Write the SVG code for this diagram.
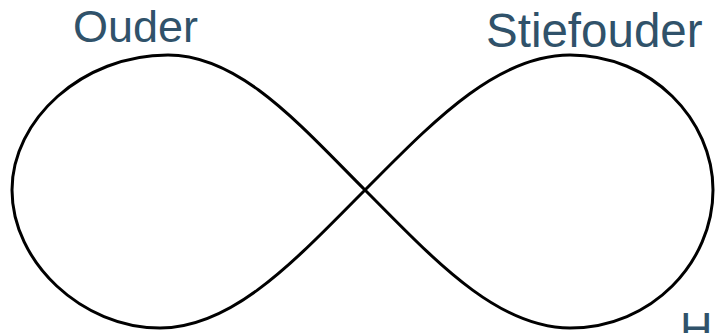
<svg xmlns="http://www.w3.org/2000/svg" width="715" height="333" viewBox="0 0 715 333">
<style>
.lbl{font-family:"Liberation Sans",Arial,sans-serif;fill:#30526A}
.loop{fill:none;stroke:#000;stroke-width:3}
</style>
<rect width="715" height="333" fill="#fff"/>
<g id="connectors">
<path class="loop" d="M365,190 C430,125 495,55 570,55 C652,55 713,120 713,190 C713,262 652,328 570,328 C495,328 430,255 365,190 C300,125 240,55 168,55 C82,55 12,120 12,190 C12,262 82,328 160,328 C235,328 300,255 365,190 Z"/>
</g>
<g id="node-ouder"><text class="lbl" x="73" y="42" font-size="45">Ouder</text></g>
<g id="node-stiefouder"><text class="lbl" x="486" y="47" font-size="47.5">Stiefouder</text></g>
<g id="node-h"><text class="lbl" x="680" y="344" font-size="45">H</text></g>
</svg>
